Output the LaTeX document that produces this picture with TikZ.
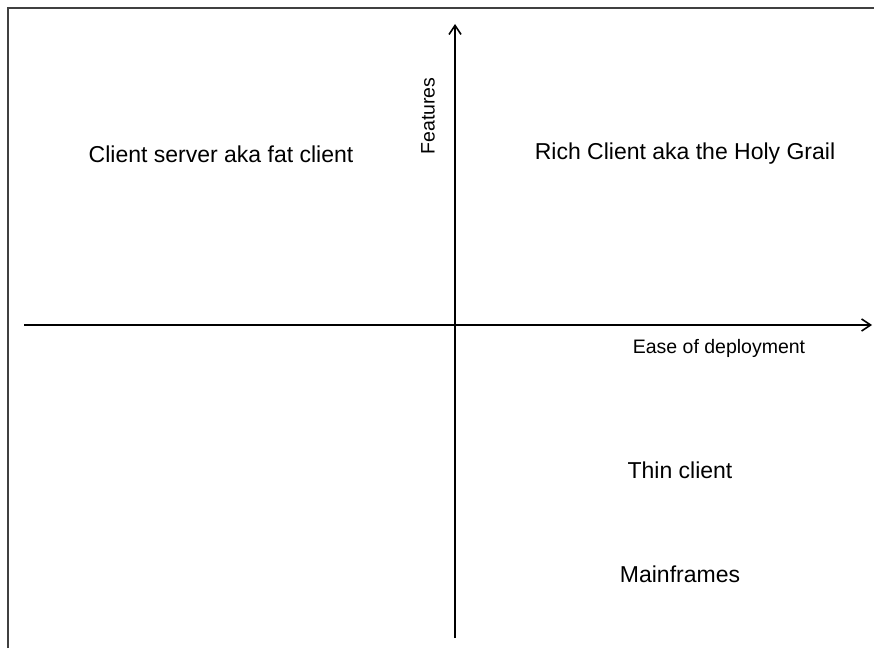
\documentclass[tikz,border=0pt]{standalone}
\usepackage{fontspec}
\setmainfont{Liberation Sans}
\usetikzlibrary{arrows.meta}
\begin{document}
\begin{tikzpicture}[x=1pt, y=1pt,
    quadlabel/.style={inner sep=0pt, font=\fontsize{23}{27}\selectfont},
    axislabel/.style={inner sep=0pt, font=\fontsize{19.5}{23}\selectfont},
    axis/.style={line width=1.6pt, -{Straight Barb[length=9pt, width=12pt, line width=1.6pt]}}]
        \useasboundingbox (0,0) rectangle (874,648);
        % frame
        \draw[line width=1.4pt, black!75] (8,0) -- (8,640) -- (874,640);
        % axes
        \coordinate (ybottom) at (455,10);
        \coordinate (ytop) at (455,624);
        \coordinate (xleft) at (24,323);
        \coordinate (xright) at (872,323);
        \draw[axis] (ybottom) -- (ytop);
        \draw[axis] (xleft) -- (xright);
        \node[axislabel, rotate=90] (features) at (428,532) {Features};
        \node[axislabel] (easeofdeployment) at (719,300) {Ease of deployment};
        % quadrants
        \node[quadlabel] (fatclient) at (221,494) {Client server aka fat client};
        \node[quadlabel] (richclient) at (685,494) {Rich Client aka the Holy Grail};
        \node[quadlabel] (thinclient) at (680,178) {Thin client};
        \node[quadlabel] (mainframes) at (680,74) {Mainframes};
    \end{tikzpicture}
\end{document}
